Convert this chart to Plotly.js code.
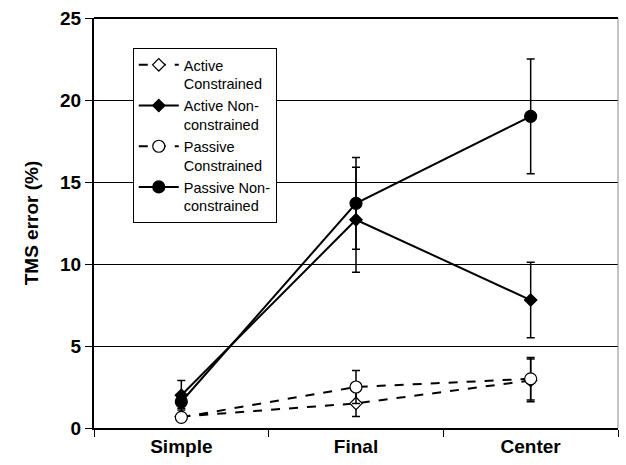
<!DOCTYPE html>
<html><head><meta charset="utf-8">
<script src="https://cdn.plot.ly/plotly-3.0.1.min.js"></script>
<style>html,body{margin:0;padding:0;background:#fff}#c{width:626px;height:465px}</style>
</head><body><div id="c"></div>
<script>
const categories = ["Simple", "Final", "Center"];
const seriesNames = ["Active<br>Constrained", "Active Non-<br>constrained", "Passive<br>Constrained", "Passive Non-<br>constrained"];
const activeConstrained = [0.7, 1.5, 2.9];
const activeConstrainedErr = [0, 0.8, 1.3];
const activeNonConstrained = [2.0, 12.7, 7.8];
const activeNonConstrainedErr = [0.9, 3.2, 2.3];
const passiveConstrained = [0.65, 2.5, 3.0];
const passiveConstrainedErr = [0, 1.0, 1.3];
const passiveNonConstrained = [1.6, 13.7, 19.0];
const passiveNonConstrainedErr = [0.4, 2.8, 3.5];
const yTicks = [0, 5, 10, 15, 20, 25];

const FONT = "Arial, 'Liberation Sans', sans-serif";
function tr(name, y, err, dash, symbol, fill) {
  return {
    type: "scatter", mode: "lines+markers", x: categories, y: y, name: name,
    line: {color: "black", width: 2, dash: dash},
    marker: {symbol: symbol, size: symbol === "diamond" ? 9.5 : 12, color: fill, line: {color: "black", width: 1.2}},
    error_y: {type: "data", array: err, visible: true, color: "black", thickness: 1.5, width: 4}
  };
}
const data = [
  tr(seriesNames[0], activeConstrained, activeConstrainedErr, "dash", "diamond", "white"),
  tr(seriesNames[1], activeNonConstrained, activeNonConstrainedErr, "solid", "diamond", "black"),
  tr(seriesNames[2], passiveConstrained, passiveConstrainedErr, "dash", "circle", "white"),
  tr(seriesNames[3], passiveNonConstrained, passiveNonConstrainedErr, "solid", "circle", "black")
];
const layout = {
  width: 626, height: 465,
  margin: {l: 94, r: 8, t: 18, b: 37, pad: 0},
  paper_bgcolor: "white", plot_bgcolor: "white",
  font: {family: FONT, color: "black"},
  showlegend: true,
  legend: {x: 0.074, y: 0.927, xanchor: "left", yanchor: "top", bgcolor: "white",
    bordercolor: "black", borderwidth: 1, font: {size: 14.5, family: FONT}, valign: "top",
    tracegroupgap: 0, itemwidth: 40},
  xaxis: {type: "category", range: [-0.5, 2.5], tickson: "boundaries", ticks: "outside", ticklen: 7,
    tickcolor: "black", showline: true, linecolor: "black", linewidth: 2, showgrid: false,
    tickfont: {size: 19, family: FONT, weight: "bold"}, zeroline: false, fixedrange: true},
  yaxis: {range: [0, 25], tickvals: yTicks, ticks: "outside", ticklen: 7, tickcolor: "black",
    showline: true, linecolor: "black", linewidth: 2, showgrid: true, gridcolor: "black", gridwidth: 1,
    zeroline: false, tickfont: {size: 19, family: FONT, weight: "bold"},
    title: {text: "TMS error (%)", font: {size: 19, family: FONT, weight: "bold"}, standoff: 16}},
  shapes: [
    {type: "line", xref: "paper", yref: "paper", x0: 1, x1: 1, y0: 0, y1: 1, line: {color: "#888", width: 1}},
    {type: "line", xref: "paper", yref: "paper", x0: 0, x1: 1, y0: 1, y1: 1, line: {color: "black", width: 2}}
  ]
};
Plotly.newPlot("c", data, layout, {staticPlot: true, displayModeBar: false});
</script></body></html>
